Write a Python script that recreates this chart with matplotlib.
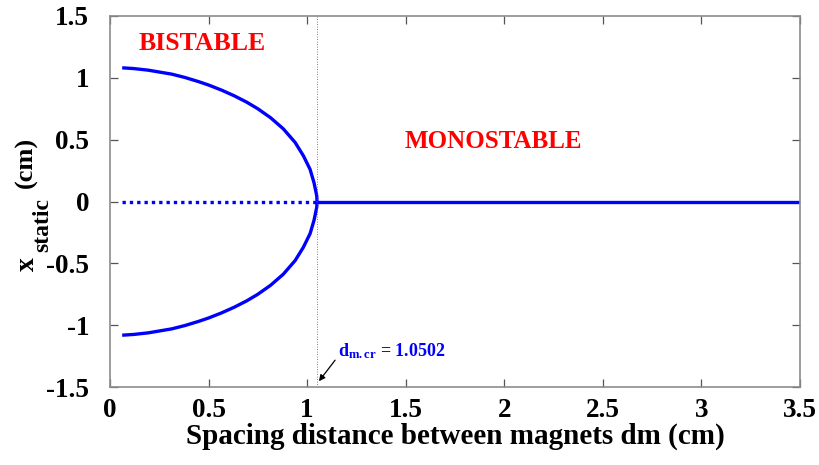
import matplotlib
matplotlib.use("Agg")
import matplotlib.pyplot as plt
import numpy as np

plt.rcParams['font.family'] = ['Liberation Serif', 'DejaVu Serif']
plt.rcParams['font.weight'] = 'bold'
plt.rcParams['mathtext.fontset'] = 'custom'
plt.rcParams['mathtext.rm'] = 'Liberation Serif:bold'
plt.rcParams['mathtext.it'] = 'Liberation Serif:bold'
plt.rcParams['mathtext.bf'] = 'Liberation Serif:bold'

# Data
dm_branch = [0.062, 0.12, 0.194, 0.313, 0.38, 0.448, 0.50, 0.567, 0.63, 0.694, 0.75,
             0.815, 0.879, 0.939, 0.981, 1.015, 1.035, 1.049, 1.0502]
x_upper = [1.081, 1.075, 1.062, 1.030, 1.003, 0.970, 0.942, 0.900, 0.855, 0.803, 0.750,
           0.677, 0.588, 0.478, 0.370, 0.260, 0.152, 0.045, 0.0]
x_lower = [-1.081, -1.075, -1.062, -1.030, -1.003, -0.970, -0.942, -0.900, -0.855, -0.803, -0.750,
           -0.677, -0.588, -0.478, -0.370, -0.260, -0.152, -0.045, 0.0]
dm_unstable = [0.062, 1.0502]
x_unstable = [0.0, 0.0]
dm_mono = [1.0502, 3.5]
x_mono = [0.0, 0.0]
dm_cr = 1.0502

xticks = [0, 0.5, 1, 1.5, 2, 2.5, 3, 3.5]
xticklabels = ['0', '0.5', '1', '1.5', '2', '2.5', '3', '3.5']
yticks = [-1.5, -1, -0.5, 0, 0.5, 1, 1.5]
yticklabels = ['-1.5', '-1', '-0.5', '0', '0.5', '1', '1.5']

fig = plt.figure(figsize=(8.2, 4.65), dpi=100)
ax = fig.add_axes([0.1341, 0.1677, 0.8415, 0.7979])

blue = '#0000ff'
ax.plot(dm_branch, x_upper, color=blue, lw=2.4, solid_joinstyle='round', solid_capstyle='butt')
ax.plot(dm_branch, x_lower, color=blue, lw=2.4, solid_joinstyle='round', solid_capstyle='butt')
ax.plot(dm_unstable, x_unstable, color=blue, lw=2.4, linestyle=(0, (1.0, 1.2)))
ax.plot(dm_mono, x_mono, color=blue, lw=2.4, solid_capstyle='butt')
ax.axvline(dm_cr, color='#555555', lw=0.6, linestyle=(0, (1, 2)))

ax.set_xlim(0, 3.5)
ax.set_ylim(-1.5, 1.5)
ax.set_xticks(xticks)
ax.set_xticklabels(xticklabels)
ax.set_yticks(yticks)
ax.set_yticklabels(yticklabels)

for s in ax.spines.values():
    s.set_color('#8c8c8c')
    s.set_linewidth(1.2)
ax.tick_params(direction='in', length=6, width=0.9, color='#555555',
               top=True, right=True, labelsize=19.5)
ax.tick_params(axis='x', pad=8)
ax.tick_params(axis='y', pad=15)
for lab in ax.get_xticklabels() + ax.get_yticklabels():
    lab.set_fontweight('bold')

ax.set_xlabel('Spacing distance between magnets dm (cm)', fontsize=21, fontweight='bold', labelpad=0)

# y label composed of pieces (large subscript as in the reference)
W, H = 820.0, 465.0
fig.text(27 / W, 1 - 264.5 / H, 'x', rotation=90, ha='center', va='center',
         fontsize=20, fontweight='bold')
fig.text(43 / W, 1 - 225.5 / H, 'static', rotation=90, ha='center', va='center',
         fontsize=17, fontweight='bold')
fig.text(26 / W, 1 - 162 / H, '(cm)', rotation=90, ha='center', va='center',
         fontsize=19, fontweight='bold')

ax.text(0.467, 1.28, 'BISTABLE', color='#ff0000', fontsize=18.5, fontweight='bold',
        ha='center', va='center')
ax.text(1.945, 0.487, 'MONOSTABLE', color='#ff0000', fontsize=18, fontweight='bold',
        ha='center', va='center')

ax.annotate('', xy=(1.060, -1.453), xytext=(1.142, -1.283),
            arrowprops=dict(arrowstyle='-|>', color='black', lw=0.9,
                            mutation_scale=9, shrinkA=0, shrinkB=0))
ax.text(1.157, -1.251, r'$\mathregular{d_{m{.}cr}}$ = 1.0502', color=blue, fontsize=13,
        fontweight='bold', ha='left', va='baseline')

fig.savefig('out.png', dpi=100)
